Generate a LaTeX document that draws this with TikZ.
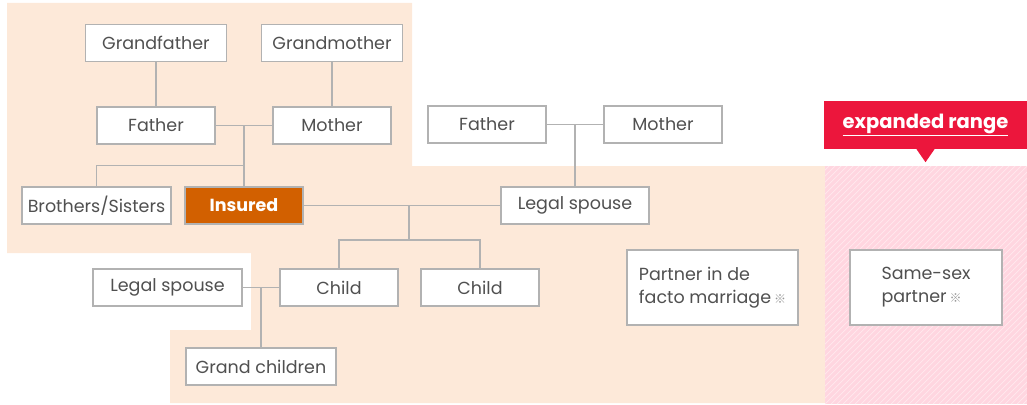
\documentclass[tikz,border=0pt]{standalone}
\usepackage{fontspec}
\setmainfont{Poppins}
\newfontfamily\cjk{Noto Sans CJK JP}
\usetikzlibrary{positioning,calc}

\definecolor{peach}{RGB}{253,233,217}
\definecolor{blush}{RGB}{255,214,224}
\definecolor{alert}{RGB}{236,22,60}
\definecolor{rust}{RGB}{210,96,0}
\definecolor{edge}{RGB}{178,178,178}
\definecolor{ink}{RGB}{80,80,80}

\newcommand{\refmark}{\,{\cjk\fontsize{12}{12}\selectfont\color{ink!60}※}}

\begin{document}
\begin{tikzpicture}[x=1pt,y=-1pt,on grid,
	person/.style={draw=edge,line width=1.8pt,fill=white,text=ink,minimum width=118pt,minimum height=37pt,inner sep=0pt,font=\fontsize{17.5}{23}\selectfont},
	link/.style={draw=edge,line width=1.8pt}]
		\useasboundingbox (0,0) rectangle (1027,404);
		
		% backgrounds
		\fill[peach] (7,3) -| (412,166) -| (825,403) -| (170,330) -| (251,253) -| (7,3) -- cycle;
		\fill[blush] (825,166) rectangle (1027,404);
		\begin{scope}
		\clip (825,166) rectangle (1027,404);
		\foreach \k in {0,6,...,450}
			\draw[white!45!blush,line width=0.7pt] (585+\k,404) -- ++(240,-240);
		\end{scope}
		
		% insured and own family
		\node[person,fill=rust,text=white,font=\bfseries\fontsize{17.5}{22}\selectfont] at (244,205.5) (ins) {Insured};
		\node[person,minimum width=149pt,left = 147.5pt of ins] (bro) {Brothers/Sisters};
		\node[person,above left = 80pt and 88pt of ins] (fa) {Father};
		\node[person,right = 176pt of fa] (mo) {Mother};
		\node[person,minimum width=141pt,above = 82.5pt of fa] (gf) {Grandfather};
		\node[person,minimum width=141pt,above = 82.5pt of mo] (gm) {Grandmother};
		
		% spouse side
		\node[person,minimum width=148pt,right = 331pt of ins] (sp) {Legal spouse};
		\node[person,above left = 81pt and 88pt of sp] (sfa) {Father};
		\node[person,right = 176pt of sfa] (smo) {Mother};
		
		% descendants
		\node[person,below right = 82pt and 95pt of ins] (ch1) {Child};
		\node[person,right = 141pt of ch1] (ch2) {Child};
		\node[person,minimum width=149pt,left = 171.5pt of ch1] (csp) {Legal spouse};
		\node[person,minimum width=150pt,below left = 79pt and 78pt of ch1] (gch) {Grand children};
		
		% partners
		\node[person,minimum width=171pt,minimum height=75pt,align=left,right = 232.5pt of ch2] (pdf) {Partner in de\\facto marriage\refmark};
		\node[person,minimum width=152pt,minimum height=75pt,align=left,right = 213.5pt of pdf] (ssp) {Same-sex\\partner\refmark};
		
		% callout
		\node[fill=alert,text=white,minimum width=203pt,minimum height=48pt,font=\bfseries\fontsize{19.5}{22}\selectfont] at (925.5,125) (tag) {\underline{expanded range}};
		\fill[alert] ([xshift=-9pt]tag.south) -- ([xshift=9pt]tag.south) -- ([yshift=-13pt]tag.south) -- cycle;
		
		% junction points
		\coordinate (sib) at ($(ins.north)!.5!(ins.north |- fa.south)$);
		\coordinate[above = 47.5pt of ch1] (kid);
		\coordinate[right = 70pt of kid] (kidm);
		
		% lines
		\path[link] (gf) -- (fa)
		(gm) -- (mo)
		(fa) -- (mo)
		(ins) -- (ins |- fa)
		(bro) |- (sib)
		(ins) -- (sp)
		(sfa) -- (smo)
		(sp) -- (sp |- sfa)
		(ch1) -- (kid) -| (ch2)
		(kidm) -- (kidm |- ins)
		(csp) -- (ch1)
		(gch) -- (gch |- ch1);
\end{tikzpicture}
\end{document}
